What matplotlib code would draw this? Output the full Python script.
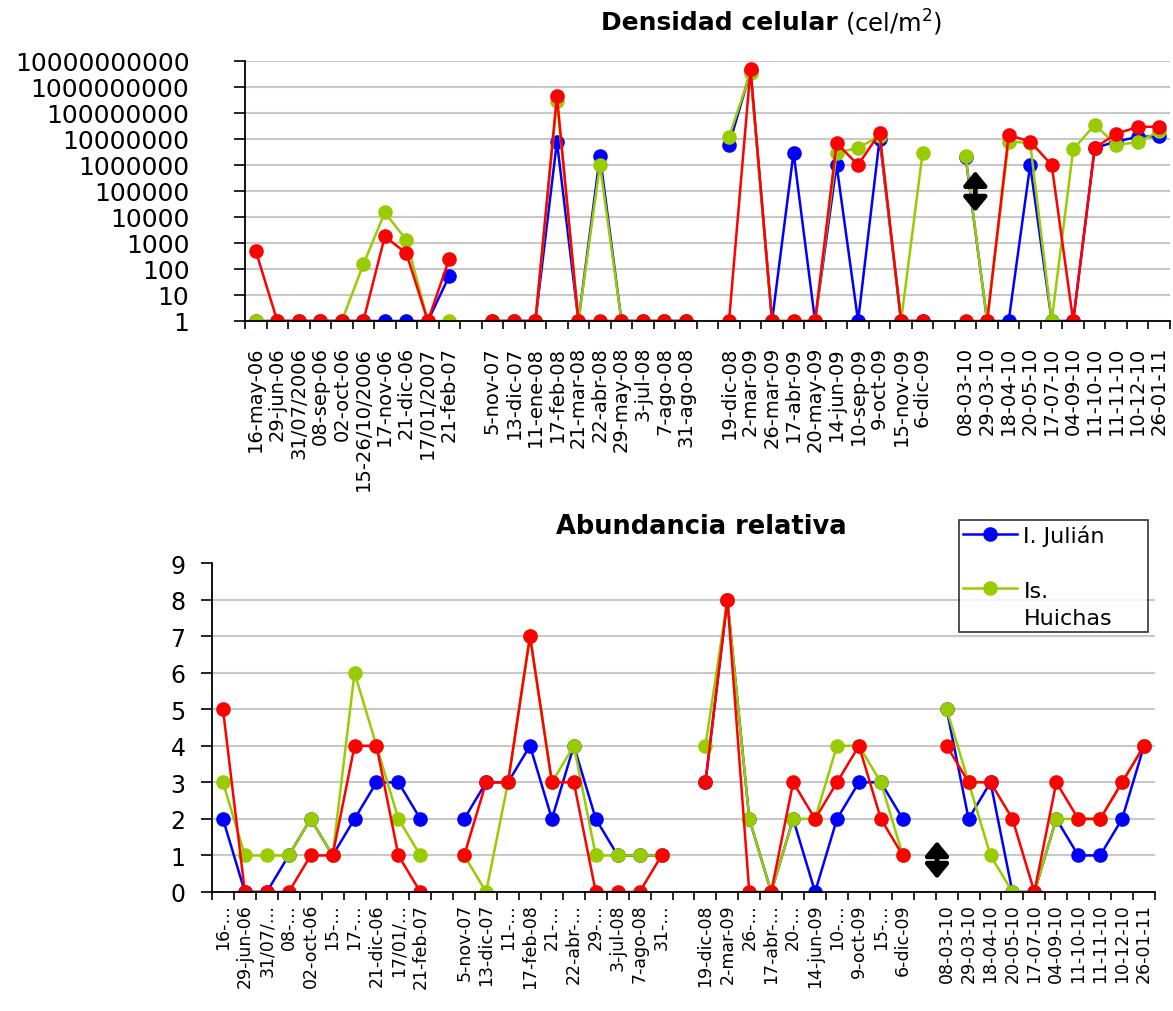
import numpy as np
import matplotlib
matplotlib.use("Agg")
import matplotlib.pyplot as plt
from matplotlib.legend_handler import HandlerLine2D

nan = np.nan

# fechas de muestreo (los huecos separan las campañas)
fechas = ["16-may-06", "29-jun-06", "31/07/2006", "08-sep-06", "02-oct-06", "15-26/10/2006",
          "17-nov-06", "21-dic-06", "17/01/2007", "21-feb-07", "",
          "5-nov-07", "13-dic-07", "11-ene-08", "17-feb-08", "21-mar-08", "22-abr-08",
          "29-may-08", "3-jul-08", "7-ago-08", "31-ago-08", "",
          "19-dic-08", "2-mar-09", "26-mar-09", "17-abr-09", "20-may-09", "14-jun-09",
          "10-sep-09", "9-oct-09", "15-nov-09", "6-dic-09", "",
          "08-03-10", "29-03-10", "18-04-10", "20-05-10", "17-07-10", "04-09-10",
          "11-10-10", "11-11-10", "10-12-10", "26-01-11"]

# etiquetas cortadas del grafico de abajo
fechas_abund = ["16-…", "29-jun-06", "31/07/…", "08-…", "02-oct-06", "15-…",
                "17-…", "21-dic-06", "17/01/…", "21-feb-07", "",
                "5-nov-07", "13-dic-07", "11-…", "17-feb-08", "21-…", "22-abr-…",
                "29-…", "3-jul-08", "7-ago-08", "31-…", "",
                "19-dic-08", "2-mar-09", "26-…", "17-abr-…", "20-…", "14-jun-09",
                "10-…", "9-oct-09", "15-…", "6-dic-09", "",
                "08-03-10", "29-03-10", "18-04-10", "20-05-10", "17-07-10", "04-09-10",
                "11-10-10", "11-11-10", "10-12-10", "26-01-11"]

# densidad celular (cel/m2)
dens_julian = [1, 1, 1, 1, 1, 1, 1, 1, 1, 55, nan,
               1, 1, 1, 8e6, 1, 2.2e6, 1, 1, 1, 1, nan,
               6e6, 4e9, 1, 3e6, 1, 1e6, 1, 1e7, 1, 1, nan,
               2e6, 1, 1, 1e6, 1, 1, 4.5e6, 8e6, 1.2e7, 1.3e7]
dens_huichas = [1, 1, 1, 1, 1, 150, 15000, 1300, 1, 1, nan,
                1, 1, 1, 3e8, 1, 1e6, 1, 1, 1, 1, nan,
                1.2e7, 3.5e9, 1, 1, 1, 3e6, 4.5e6, 1.3e7, 1, 3e6, nan,
                2.2e6, 1, 8e6, 7e6, 1, 4e6, 3.5e7, 6e6, 7.5e6, 2e7]
dens_rojo = [500, 1, 1, 1, 1, 1, 1800, 400, 1, 250, nan,
             1, 1, 1, 4.5e8, 1, 1, 1, 1, 1, 1, nan,
             1, 5e9, 1, 1, 1, 7e6, 1e6, 1.7e7, 1, 1, nan,
             1, 1, 1.4e7, 8e6, 1e6, 1, 4.5e6, 1.6e7, 2.9e7, 3e7]

# abundancia relativa
abund_julian = [2, 0, 0, 1, 2, 1, 2, 3, 3, 2, nan,
                2, 3, 3, 4, 2, 4, 2, 1, 1, 1, nan,
                3, 8, 2, 0, 2, 0, 2, 3, 3, 2, nan,
                5, 2, 3, 0, 0, 2, 1, 1, 2, 4]
abund_huichas = [3, 1, 1, 1, 2, 1, 6, 4, 2, 1, nan,
                 1, 0, 3, 7, 3, 4, 1, 1, 1, 1, nan,
                 4, 8, 2, 0, 2, 2, 4, 4, 3, 1, nan,
                 5, 3, 1, 0, 0, 2, 2, 2, 3, 4]
abund_rojo = [5, 0, 0, 0, 1, 1, 4, 4, 1, 0, nan,
              1, 3, 3, 7, 3, 3, 0, 0, 0, 1, nan,
              3, 8, 0, 0, 3, 2, 3, 4, 2, 1, nan,
              4, 3, 3, 2, 0, 3, 2, 2, 3, 4]

AZUL = "#0000FF"
VERDE = "#99CC00"
ROJO = "#FF0000"


class HandlerArriba(HandlerLine2D):
    """Pone el simbolo a la altura de la primera linea del texto."""
    def create_artists(self, legend, orig_handle, xdescent, ydescent, width, height,
                       fontsize, trans):
        arts = super().create_artists(legend, orig_handle, xdescent, ydescent, width,
                                      height, fontsize, trans)
        for a in arts:
            a.set_ydata(np.asarray(a.get_ydata()) + 0.75 * fontsize)
        return arts


def ejes_categoria(ax, etiquetas, fs, pad):
    n = len(etiquetas)
    x = np.arange(n)
    ax.set_xlim(-0.5, n - 0.5)
    ax.set_xticks(x)
    ax.set_xticklabels(etiquetas, rotation=90, fontsize=fs, va="top", ha="center")
    ax.set_xticks(np.arange(n + 1) - 0.5, minor=True)
    ax.tick_params(axis="x", which="major", length=0, pad=pad)
    ax.tick_params(axis="x", which="minor", length=6, width=1.2, direction="out")
    for s in ["top", "right"]:
        ax.spines[s].set_visible(False)
    for s in ["left", "bottom"]:
        ax.spines[s].set_linewidth(1.3)
    ax.set_axisbelow(True)
    ax.yaxis.grid(True, color="#c8c8c8", linewidth=1.5)


def flecha(ax, x, y0, y1):
    ax.annotate("", xy=(x, y0), xytext=(x, y1),
                arrowprops=dict(arrowstyle="<|-|>,head_width=0.7,head_length=0.85",
                                color="black", lw=3.5, mutation_scale=10,
                                shrinkA=0, shrinkB=0))


def make_plot():
    fig = plt.figure(figsize=(11.73, 10.12), dpi=100)
    W, H = 1173.0, 1012.0
    x = np.arange(len(fechas))
    estilo = dict(marker="o", markersize=10.5, linewidth=1.8, markeredgewidth=0)

    # ---- densidad celular ----
    ax1 = fig.add_axes([245 / W, 1 - 322 / H, (1170 - 245) / W, (322 - 62) / H])
    ax1.plot(x, dens_julian, color=AZUL, **estilo)
    ax1.plot(x, dens_huichas, color=VERDE, **estilo)
    ax1.plot(x, dens_rojo, color=ROJO, **estilo)
    ax1.set_yscale("log")
    ax1.set_ylim(1, 1e10)
    ax1.set_yticks([10 ** k for k in range(11)])
    ax1.set_yticklabels([str(10 ** k) for k in range(11)], fontsize=18)
    ax1.yaxis.set_minor_locator(matplotlib.ticker.NullLocator())
    ax1.tick_params(axis="y", length=8, width=1.2, pad=32)
    ejes_categoria(ax1, fechas, 14, 18)
    flecha(ax1, 33.45, 10 ** 4.2, 10 ** 5.77)

    fig.text(838 / W, 1 - 23 / H, "Densidad celular", fontsize=18, fontweight="bold",
             ha="right", va="center")
    fig.text(845 / W, 1 - 23 / H, "(cel/m$^2$)", fontsize=17.5, ha="left", va="center")

    # ---- abundancia relativa ----
    ax2 = fig.add_axes([212 / W, 1 - 893 / H, (1155 - 212) / W, (893 - 564) / H])
    l1, = ax2.plot(x, abund_julian, color=AZUL, **estilo)
    l2, = ax2.plot(x, abund_huichas, color=VERDE, **estilo)
    ax2.plot(x, abund_rojo, color=ROJO, **estilo)
    ax2.set_ylim(0, 9)
    ax2.set_yticks(range(10))
    ax2.set_yticklabels([str(k) for k in range(10)], fontsize=17)
    ax2.tick_params(axis="y", length=8, width=1.2, pad=11)
    ejes_categoria(ax2, fechas_abund, 12.5, 8)
    ax2.get_ygridlines()[-1].set_visible(False)
    flecha(ax2, 32.56, 0.36, 1.39)

    fig.text(701 / W, 1 - 527 / H, "Abundancia relativa", fontsize=18.5, fontweight="bold",
             ha="center", va="center")

    leg = fig.legend([l1, l2], ["I. Julián", "Is.\nHuichas"], loc="upper left",
                     bbox_to_anchor=(959 / W, 1 - 638 / H, (1148 - 959) / W, (638 - 521) / H),
                     bbox_transform=fig.transFigure, mode="expand",
                     handler_map={l2: HandlerArriba()},
                     fontsize=16, frameon=True, fancybox=False, borderaxespad=0,
                     handlelength=2.4, handletextpad=0.3, labelspacing=1.6,
                     borderpad=0.2)
    leg.get_texts()[1].set_linespacing(1.4)
    leg.get_frame().set_edgecolor("black")
    leg.get_frame().set_linewidth(1.2)

    fig.savefig("out.png", dpi=100)


if __name__ == "__main__":
    make_plot()
